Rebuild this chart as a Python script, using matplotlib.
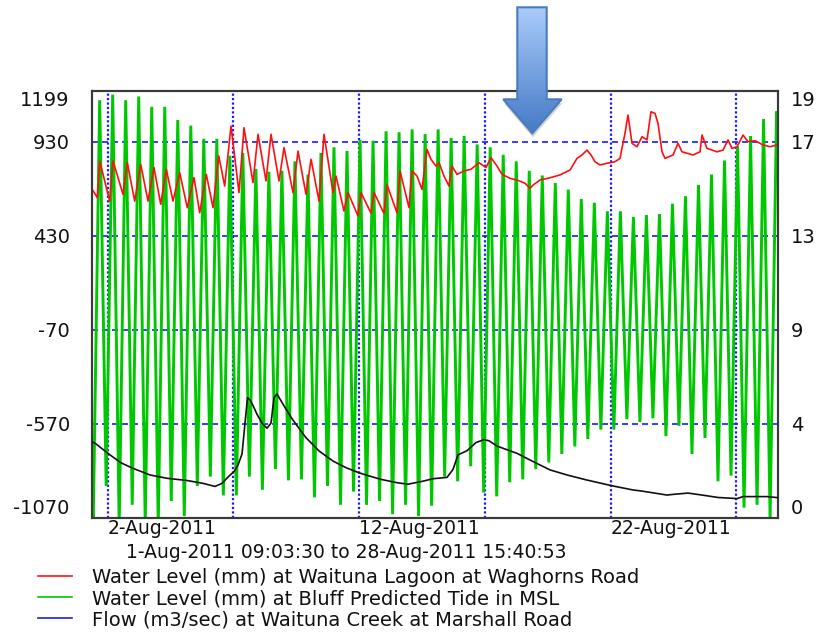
import numpy as np
import pandas as pd
import matplotlib
matplotlib.use('Agg')
import matplotlib.pyplot as plt
import matplotlib.dates as mdates
from matplotlib.lines import Line2D
from matplotlib.patches import Polygon

plt.rcParams['font.family'] = ['DejaVu Sans']

# ---------------- data ----------------
record_start = '2011-08-01 09:03:30'
record_end = '2011-08-28 15:40:53'
period_text = '1-Aug-2011 09:03:30 to 28-Aug-2011 15:40:53'

series_labels = ['Water Level (mm) at Waituna Lagoon at Waghorns Road',
                 'Water Level (mm) at Bluff Predicted Tide in MSL',
                 'Flow (m3/sec) at Waituna Creek at Marshall Road']

left_ticks = [-1070, -570, -70, 430, 930, 1199]
left_tick_labels = ['-1070', '-570', '-70', '430', '930', '1199']
right_tick_labels = ['0', '4', '9', '13', '17', '19']
flow_axis_max = 19.35

date_ticks = ['2011-08-02', '2011-08-12', '2011-08-22']
date_tick_labels = ['2-Aug-2011', '12-Aug-2011', '22-Aug-2011']
date_grid = ['2011-08-02', '2011-08-07', '2011-08-12', '2011-08-17',
             '2011-08-22', '2011-08-27']

# Bluff predicted tide: alternating low / high water (mm), first low at 10:10 on 1 Aug
tide_first_low = '2011-08-01 10:10'
tide_half_period = '6h12min40s'
tide_start_level = -950
tide_end_level = 850
tide_low = [-1120, -900, -1110, -1000, -1100, -1110, -980, -1060, -900, -850,
            -950, -950, -850, -920, -810, -870, -865, -960, -900, -1000,
            -930, -1000, -980, -1050, -1000, -1060, -1005, -850, -875, -795,
            -935, -955, -880, -865, -810, -775, -730, -690, -650, -600,
            -600, -545, -560, -540, -635, -580, -730, -645, -875, -845,
            -1015, -1000, -1070]
tide_high = [1150, 1180, 1150, 1170, 1115, 1115, 1045, 1015, 945, 945,
             855, 870, 785, 770, 775, 825, 755, 870, 900, 880,
             940, 935, 985, 980, 995, 970, 995, 950, 960, 915,
             900, 860, 825, 775, 750, 710, 675, 625, 605, 560,
             560, 530, 540, 545, 600, 640, 700, 755, 830, 905,
             960, 1050, 1090]

# Waituna Lagoon water level (mm); time as day of August 2011 (fractional)
red_day = [1.417, 1.588, 1.684, 2.081, 2.212, 2.610, 2.781, 3.075, 3.314, 3.604,
           3.843, 4.109, 4.332, 4.598, 4.864, 5.167, 5.433, 5.660, 5.922, 6.189,
           6.415, 6.654, 6.904, 7.222, 7.421, 7.779, 7.978, 8.296, 8.495, 8.813,
           9.012, 9.370, 9.569, 9.886, 10.086, 10.404, 10.602, 10.960, 11.079, 11.397,
           11.556, 11.954, 12.073, 12.471, 12.590, 12.988, 13.107, 13.505, 13.624, 13.982,
           14.101, 14.300, 14.498, 14.697, 14.856, 15.055, 15.174, 15.373, 15.572, 15.691,
           15.890, 16.168, 16.447, 16.765, 17.043, 17.242, 17.481, 17.680, 17.998, 18.276,
           18.594, 18.793, 18.912, 19.190, 19.588, 19.985, 20.383, 20.661, 20.860, 21.059,
           21.218, 21.377, 21.576, 21.854, 22.172, 22.371, 22.570, 22.689, 22.848, 23.047,
           23.246, 23.445, 23.604, 23.763, 23.882, 24.041, 24.161, 24.479, 24.678, 24.837,
           25.274, 25.553, 25.632, 25.831, 26.229, 26.467, 26.666, 26.825, 27.024, 27.262,
           27.461, 27.740, 28.058, 28.337, 28.615]
red_level = [670, 632, 827, 614, 827, 650, 818, 614, 809, 614,
             792, 597, 783, 614, 765, 579, 739, 552, 756, 579,
             854, 694, 1013, 659, 1004, 712, 969, 721, 969, 721,
             898, 659, 880, 650, 836, 614, 969, 659, 747, 561,
             659, 535, 659, 550, 660, 548, 700, 552, 774, 579,
             774, 747, 676, 889, 836, 800, 818, 747, 694, 800,
             756, 774, 783, 818, 792, 845, 800, 756, 735, 726,
             709, 682, 699, 726, 738, 753, 779, 841, 859, 885,
             859, 823, 806, 815, 823, 841, 974, 1071, 921, 903,
             956, 939, 1089, 1080, 1027, 876, 841, 859, 921, 876,
             859, 876, 965, 894, 876, 885, 939, 894, 903, 965,
             930, 935, 912, 903, 912]

# Waituna Creek flow (m3/sec); time as day of August 2011 (fractional)
flow_day = [1.377, 1.497, 2.093, 2.531, 3.008, 3.684, 4.360, 5.155, 5.791, 6.268,
            6.547, 6.825, 7.023, 7.183, 7.342, 7.461, 7.560, 7.660, 7.779, 7.938,
            8.137, 8.336, 8.495, 8.614, 8.733, 9.012, 9.330, 9.648, 9.886, 10.403,
            10.960, 11.477, 11.994, 12.352, 12.869, 13.505, 13.942, 14.579, 14.936, 15.493,
            15.731, 15.930, 16.288, 16.646, 16.964, 17.163, 17.481, 17.838, 18.276, 18.912,
            19.588, 20.264, 21.020, 22.053, 22.889, 23.246, 24.241, 24.479, 25.075, 25.751,
            26.268, 27.024, 27.262, 28.217, 28.653]
flow_value = [3.45, 3.39, 2.86, 2.50, 2.25, 1.95, 1.80, 1.70, 1.57, 1.43,
              1.57, 1.90, 2.10, 2.40, 2.90, 4.30, 5.45, 5.35, 5.10, 4.70,
              4.30, 4.07, 4.30, 5.45, 5.62, 5.08, 4.50, 4.00, 3.64, 3.04,
              2.58, 2.28, 2.05, 1.92, 1.75, 1.60, 1.53, 1.68, 1.78, 1.84,
              2.20, 2.86, 3.05, 3.42, 3.55, 3.50, 3.26, 3.11, 2.93, 2.56,
              2.18, 1.95, 1.73, 1.46, 1.27, 1.22, 1.04, 1.07, 1.13, 1.02,
              0.93, 0.88, 0.97, 0.97, 0.92]

# ---------------- helpers ----------------
def aug_days(days):
    base = pd.Timestamp('2011-08-01')
    return base + pd.to_timedelta(np.asarray(days) - 1.0, unit='D')

t_start = pd.Timestamp(record_start)
t_end = pd.Timestamp(record_end)

tide_turn_times = pd.date_range(tide_first_low, periods=2 * len(tide_low),
                                freq=tide_half_period)
tide_turn_levels = np.column_stack([tide_low, tide_high]).ravel()
tide_times = [t_start] + list(tide_turn_times) + [t_end]
tide_levels = [tide_start_level] + list(tide_turn_levels) + [tide_end_level]

red_times = aug_days(red_day)
flow_times = aug_days(flow_day)

# ---------------- figure ----------------
W, H = 816, 633
fig = plt.figure(figsize=(W / 100, H / 100), dpi=100)
ax_l, ax_r, ax_t, ax_b = 92, 778, 91, 518
ax = fig.add_axes([ax_l / W, 1 - ax_b / H, (ax_r - ax_l) / W, (ax_b - ax_t) / H])

ymin, ymax = left_ticks[0], left_ticks[-1]
ax.set_ylim(ymin, ymax)
ax.set_xlim(t_start, t_end)

grid_blue = '#1a1aff'
for v in left_ticks[1:-1]:
    ax.axhline(v, color=grid_blue, lw=1.2, dashes=(3.6, 2.4), zorder=1)
for d in date_grid:
    ax.axvline(pd.Timestamp(d), color=grid_blue, lw=1.6, dashes=(1.0, 1.0), zorder=1)

ax.plot(tide_times, tide_levels, color='#00c800', lw=2.1, zorder=2,
        solid_joinstyle='miter')
ax.plot(red_times, red_level, color='#ff1010', lw=1.2, zorder=3)

ax2 = ax.twinx()
ax2.set_ylim(0, flow_axis_max)
ax2.plot(flow_times, flow_value, color='#111111', lw=1.2, zorder=4)

# ticks
ax.set_yticks(left_ticks, left_tick_labels)
right_pos = [(v - ymin) / (ymax - ymin) * flow_axis_max for v in left_ticks]
ax2.set_yticks(right_pos, right_tick_labels)
ax.set_xticks([pd.Timestamp(d) for d in date_ticks], date_tick_labels)

ax.tick_params(axis='y', length=0, labelsize=14, pad=16, colors='#111111')
ax2.tick_params(axis='y', length=0, labelsize=14, pad=9.5, colors='#111111')
ax.tick_params(axis='x', length=0, labelsize=13.5, pad=1.0, colors='#111111')
for lbl in ax.get_xticklabels():
    lbl.set_ha('left')

lt = ax.yaxis.get_major_ticks()
lt[0].label1.set_va('bottom')
lt[-1].label1.set_va('top')
rt = ax2.yaxis.get_major_ticks()
rt[0].label2.set_va('bottom')
rt[-1].label2.set_va('top')

for a in (ax, ax2):
    for s in a.spines.values():
        s.set_color('#3a3a3a')
        s.set_linewidth(1.5)

# caption under the axis
fig.text(126 / W, 1 - 553 / H, period_text, ha='left', va='center',
         fontsize=13.5, color='#111111')

# legend
handles = [Line2D([], [], color=c, lw=1.2) for c in ('#ff1010', '#00c800', '#2020e0')]
fig.legend(handles, series_labels, loc='upper left',
           bbox_to_anchor=(38 / W, 1 - 568 / H), frameon=False, fontsize=14,
           handlelength=1.75, handletextpad=1.05, labelspacing=0.11,
           borderpad=0, borderaxespad=0, labelcolor='#111111')

# ---------------- callout arrow ----------------
ov = fig.add_axes([0, 0, 1, 1], zorder=20)
ov.set_xlim(0, W)
ov.set_ylim(H, 0)
ov.axis('off')
ov.patch.set_alpha(0)
arrow_pts = np.array([(517.3, 7.3), (546.7, 7.3), (546.7, 99.3), (561.7, 99.3),
                      (532.3, 133.3), (503.3, 99.3), (517.3, 99.3)])
shadow = Polygon(arrow_pts + np.array([0.5, 4.0]), closed=True,
                 facecolor='#9a9a9a', edgecolor='none', alpha=0.45)
ov.add_patch(shadow)
arrow = Polygon(arrow_pts, closed=True, facecolor='none',
                edgecolor='#4a7cbc', lw=1.5)
ov.add_patch(arrow)
top_c = np.array([0.67, 0.80, 0.98])
bot_c = np.array([0.27, 0.48, 0.78])
ramp = np.linspace(0, 1, 128)[:, None]
grad = (top_c[None, :] * (1 - ramp) + bot_c[None, :] * ramp)[:, None, :]
grad = np.repeat(grad, 2, axis=1)
im = ov.imshow(grad, extent=[503.3, 561.7, 133.3, 7.3], aspect='auto',
               interpolation='bilinear', zorder=1)
im.set_clip_path(arrow)
arrow.set_zorder(2)

fig.savefig('out.png', dpi=100)
